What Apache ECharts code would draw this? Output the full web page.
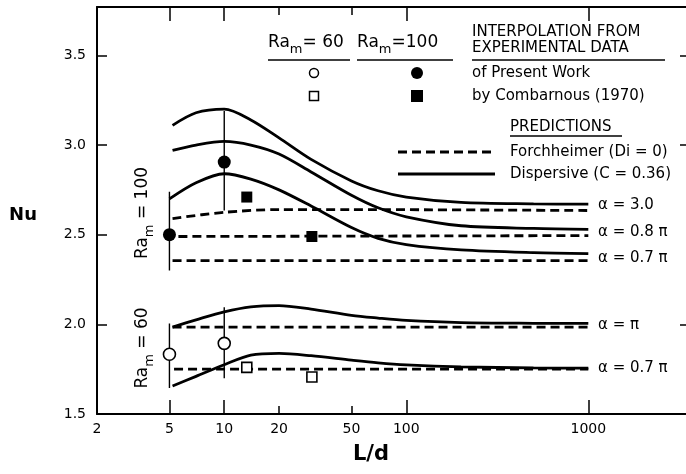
<!DOCTYPE html>
<html>
<head>
<meta charset="utf-8">
<script src="https://cdn.jsdelivr.net/npm/echarts@6/dist/echarts.min.js"></script>
<style>
  html, body { margin: 0; padding: 0; background: #fff; }
  #chart { width: 686px; height: 474px; }
</style>
</head>
<body>
<div id="chart"></div>
<script>
  // axis ticks
  var xLabelValues = [2, 5, 10, 20, 50, 100, 1000];
  var xLongTicks = [5, 10, 100, 1000];
  var xShortTicks = [20, 50];
  var yTickValues = [1.5, 2.0, 2.5, 3.0, 3.5];
  var yRightTicks = [2.0, 3.0, 3.5];

  // Ra_m = 100, dispersive (C = 0.36), solid
  var disp100a30 = [[5.2, 3.11], [7, 3.18], [10, 3.20], [14, 3.14], [20, 3.04], [30, 2.92], [50, 2.80], [70, 2.745], [100, 2.71], [200, 2.68], [500, 2.672], [1000, 2.67]];
  var disp100a08 = [[5.2, 2.97], [7, 3.00], [10, 3.02], [14, 3.00], [20, 2.95], [30, 2.85], [50, 2.72], [70, 2.65], [100, 2.60], [200, 2.55], [500, 2.535], [1000, 2.53]];
  var disp100a07 = [[5.0, 2.70], [7, 2.79], [10, 2.84], [14, 2.81], [20, 2.75], [30, 2.66], [50, 2.54], [70, 2.48], [100, 2.445], [200, 2.415], [500, 2.40], [1000, 2.395]];
  // Ra_m = 100, Forchheimer (Di = 0), dashed
  var forch100a30 = [[5.2, 2.59], [10, 2.625], [20, 2.64], [50, 2.64], [1000, 2.635]];
  var forch100a08 = [[5.6, 2.49], [1000, 2.495]];
  var forch100a07 = [[5.2, 2.355], [1000, 2.355]];

  // Ra_m = 60
  var disp60api = [[5.2, 1.985], [7, 2.025], [10, 2.07], [14, 2.098], [20, 2.105], [30, 2.085], [50, 2.05], [70, 2.035], [100, 2.022], [200, 2.01], [500, 2.006], [1000, 2.005]];
  var disp60a07 = [[5.2, 1.656], [7, 1.71], [10, 1.775], [14, 1.828], [20, 1.838], [30, 1.825], [50, 1.80], [70, 1.785], [100, 1.774], [200, 1.763], [500, 1.757], [1000, 1.756]];
  var forch60api = [[5.2, 1.985], [1000, 1.985]];
  var forch60a07 = [[5.3, 1.75], [1000, 1.75]];

  // experimental points
  var present100 = [[5, 2.50], [10, 2.905]];
  var combarnous100 = [[13.3, 2.71], [30.3, 2.49]];
  var present60 = [[5, 1.833], [10, 1.894]];
  var combarnous60 = [[13.3, 1.76], [30.3, 1.706]];

  // vertical range bars
  var bars = [
    [[5, 2.30], [5, 2.74]],
    [[10, 2.635], [10, 3.19]],
    [[5, 1.645], [5, 2.005]],
    [[10, 1.70], [10, 2.095]]
  ];

  var ink = "#000";
  var font = "DejaVu Sans";

  function curve(data, dashed, smooth) {
    return {
      type: "line",
      data: data,
      smooth: smooth ? 0.3 : false,
      symbol: "none",
      silent: true,
      z: 3,
      lineStyle: { color: ink, width: 2.8, type: dashed ? [9, 5] : "solid" },
    };
  }

  function points(data, filled, symbol, size) {
    return {
      type: "scatter",
      data: data,
      symbol: symbol,
      symbolSize: size,
      silent: true,
      z: 5,
      itemStyle: {
        color: filled ? ink : "#fff",
        borderColor: ink,
        borderWidth: filled ? 0 : 1.6,
        opacity: 1,
      },
    };
  }

  var series = [
    curve(disp100a30, false, true),
    curve(disp100a08, false, true),
    curve(disp100a07, false, true),
    curve(forch100a30, true, true),
    curve(forch100a08, true, false),
    curve(forch100a07, true, false),
    curve(disp60api, false, true),
    curve(disp60a07, false, true),
    curve(forch60api, true, false),
    curve(forch60a07, true, false),
  ];
  bars.forEach(function (b) {
    series.push({
      type: "line",
      data: b,
      symbol: "none",
      silent: true,
      z: 4,
      lineStyle: { color: ink, width: 1.4 },
    });
  });
  series.push(points(present100, true, "circle", 13));
  series.push(points(combarnous100, true, "rect", 11));
  series.push(points(present60, false, "circle", 12));
  series.push(points(combarnous60, false, "rect", 10));

  function logAxis(pos, ticks, len, showLine, showLabel) {
    return {
      type: "log",
      logBase: 10,
      min: 2,
      max: 3440,
      position: pos,
      axisLine: { show: showLine, lineStyle: { color: ink, width: 2 } },
      axisTick: { show: true, inside: true, length: len, customValues: ticks, lineStyle: { color: ink, width: 1.5 } },
      axisLabel: {
        show: showLabel,
        customValues: xLabelValues,
        formatter: function (v) { return String(Math.round(v)); },
        color: ink,
        fontFamily: font,
        fontSize: 14,
        margin: 8,
      },
      splitLine: { show: false },
      minorTick: { show: false },
    };
  }

  function txt(x, y, text, opts) {
    opts = opts || {};
    return {
      type: "text",
      x: x,
      y: y,
      rotation: opts.rotation || 0,
      style: {
        text: text,
        fill: ink,
        fontFamily: font,
        fontSize: opts.size || 15,
        fontWeight: opts.weight || "normal",
        align: opts.align || "left",
        verticalAlign: "middle",
        rich: opts.rich,
      },
    };
  }

  function hline(x1, x2, y, w, dash) {
    return {
      type: "line",
      shape: { x1: x1, y1: y, x2: x2, y2: y },
      style: { stroke: ink, lineWidth: w, lineDash: dash || null },
    };
  }

  var raRich = {
    a: { fontSize: 17, fontFamily: font, fill: ink, lineHeight: 20, verticalAlign: "top" },
    s: { fontSize: 13, fontFamily: font, fill: ink, lineHeight: 13, padding: [9, 0, 0, 0], verticalAlign: "top" },
  };

  var graphics = [
    txt(268, 44, "{a|Ra}{s|m}{a|= 60}", { rich: raRich }),
    hline(268, 350, 60, 1.5),
    txt(357, 44, "{a|Ra}{s|m}{a|=100}", { rich: raRich }),
    hline(357, 453, 60, 1.5),
    txt(472, 32, "INTERPOLATION FROM"),
    txt(472, 48, "EXPERIMENTAL DATA"),
    hline(472, 665, 60, 1.5),
    { type: "circle", shape: { cx: 314, cy: 73, r: 4.5 }, style: { fill: "#fff", stroke: ink, lineWidth: 1.5 } },
    { type: "circle", shape: { cx: 417, cy: 73, r: 6 }, style: { fill: ink } },
    { type: "rect", shape: { x: 309.5, y: 91.5, width: 9, height: 9 }, style: { fill: "#fff", stroke: ink, lineWidth: 1.5 } },
    { type: "rect", shape: { x: 411, y: 90, width: 12, height: 12 }, style: { fill: ink } },
    txt(472, 73, "of Present Work"),
    txt(472, 96, "by Combarnous (1970)"),
    txt(510, 127, "PREDICTIONS"),
    hline(510, 622, 136, 1.5),
    hline(398, 495, 152, 2.8, [9, 5]),
    txt(510, 152, "Forchheimer (Di = 0)"),
    hline(398, 495, 174, 2.8),
    txt(510, 174, "Dispersive (C = 0.36)"),
    txt(598, 205, "α = 3.0"),
    txt(598, 232, "α = 0.8 π"),
    txt(598, 258, "α = 0.7 π"),
    txt(598, 325, "α = π"),
    txt(598, 368, "α = 0.7 π"),
    txt(144, 213, "{a|Ra}{s|m}{a| = 100}", { rich: raRich, rotation: Math.PI / 2, align: "center" }),
    txt(144, 348, "{a|Ra}{s|m}{a| = 60}", { rich: raRich, rotation: Math.PI / 2, align: "center" }),
    txt(23, 215, "Nu", { size: 18, weight: "bold", align: "center" }),
    txt(371, 455, "L/d", { size: 21, weight: "bold", align: "center" }),
  ];

  var chart = echarts.init(document.getElementById("chart"));
  chart.setOption({
    animation: false,
    backgroundColor: "#fff",
    grid: { left: 97, right: 0, top: 7, bottom: 60 },
    xAxis: [
      logAxis("bottom", xLongTicks, 14, true, true),
      logAxis("top", xLongTicks, 14, true, false),
      logAxis("bottom", xShortTicks, 8, false, false),
      logAxis("top", xShortTicks, 8, false, false),
    ],
    yAxis: [
      {
        type: "value",
        min: 1.5,
        max: 3.77,
        interval: 0.5,
        axisLine: { show: true, lineStyle: { color: ink, width: 2 } },
        axisTick: { inside: true, length: 10, customValues: yTickValues, lineStyle: { color: ink, width: 1.5 } },
        axisLabel: {
          customValues: yTickValues,
          formatter: function (v) { return v.toFixed(1); },
          color: ink,
          fontFamily: font,
          fontSize: 14,
          margin: 11,
        },
        splitLine: { show: false },
      },
      {
        type: "value",
        position: "right",
        min: 1.5,
        max: 3.77,
        interval: 0.5,
        axisLine: { show: false },
        axisTick: { show: true, inside: true, length: 6, customValues: yRightTicks, lineStyle: { color: ink, width: 1.5 } },
        axisLabel: { show: false },
        splitLine: { show: false },
      },
    ],
    series: series,
    graphic: graphics,
  });
</script>
</body>
</html>
